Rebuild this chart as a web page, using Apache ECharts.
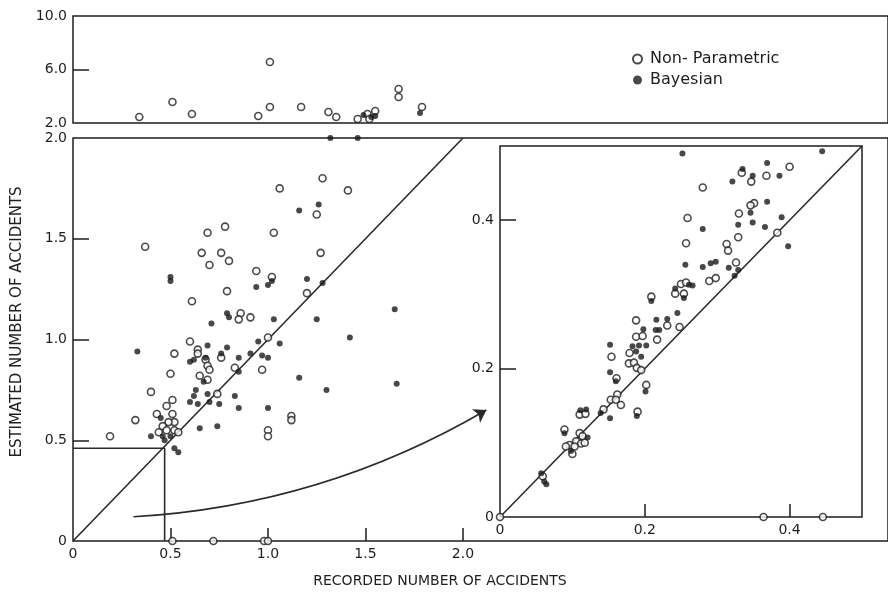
<!DOCTYPE html>
<html>
<head>
<meta charset="utf-8">
<script src="https://cdn.jsdelivr.net/npm/echarts@6/dist/echarts.min.js"></script>
<style>
  html, body { margin: 0; padding: 0; background: #fff; }
  #chart { width: 888px; height: 599px; }
</style>
</head>
<body>
<div id="chart"></div>
<script>
// top strip (estimates above 2.0)
var topOpen = [[0.34, 2.45], [0.51, 3.57], [0.61, 2.67], [0.95, 2.52], [1.01, 6.56], [1.01, 3.2],
  [1.17, 3.2], [1.31, 2.82], [1.35, 2.45], [1.46, 2.3], [1.51, 2.67], [1.52, 2.3], [1.55, 2.9],
  [1.67, 4.54], [1.67, 3.94], [1.79, 3.2]]
var topFilled = [[1.49, 2.6], [1.53, 2.45], [1.55, 2.52], [1.78, 2.75]]

// main panel
var mainOpen = [[0.37, 1.46], [0.69, 1.53], [0.78, 1.56], [1.06, 1.75], [1.03, 1.53], [1.28, 1.8],
  [1.41, 1.74], [1.25, 1.62], [0.66, 1.43], [0.76, 1.43], [0.7, 1.37], [0.8, 1.39], [0.94, 1.34],
  [1.02, 1.31], [1.2, 1.23], [0.79, 1.24], [0.61, 1.19], [0.86, 1.13], [0.85, 1.1], [0.91, 1.11],
  [1.27, 1.43], [0.97, 0.85], [0.6, 0.99], [0.52, 0.93], [0.64, 0.95], [0.64, 0.93], [0.68, 0.9],
  [0.69, 0.87], [0.7, 0.85], [0.76, 0.91], [1.0, 1.01], [0.83, 0.86], [0.5, 0.83], [0.65, 0.82],
  [0.69, 0.8], [0.4, 0.74], [0.74, 0.73], [1.12, 0.62], [1.12, 0.6], [1.0, 0.55], [1.0, 0.52],
  [0.51, 0.7], [0.48, 0.67], [0.43, 0.63], [0.32, 0.6], [0.19, 0.52], [0.51, 0.63], [0.52, 0.59],
  [0.49, 0.59], [0.46, 0.57], [0.48, 0.55], [0.52, 0.55], [0.54, 0.54], [0.44, 0.54],
  [0.51, 0], [0.72, 0], [0.98, 0], [1.0, 0]]
var mainFilled = [[1.16, 1.64], [1.26, 1.67], [0.5, 1.31], [0.5, 1.29], [1.02, 1.29], [0.94, 1.26],
  [1.0, 1.27], [1.2, 1.3], [1.28, 1.28], [0.79, 1.13], [0.8, 1.11], [0.71, 1.08], [1.03, 1.1],
  [1.25, 1.1], [1.65, 1.15], [0.95, 0.99], [1.06, 0.98], [1.42, 1.01], [0.97, 0.92], [1.0, 0.91],
  [1.16, 0.81], [1.3, 0.75], [1.66, 0.78], [1.0, 0.66], [0.69, 0.97], [0.79, 0.96], [0.33, 0.94],
  [0.6, 0.89], [0.62, 0.9], [0.68, 0.91], [0.76, 0.93], [0.85, 0.91], [0.91, 0.93], [0.85, 0.84],
  [0.67, 0.79], [0.63, 0.75], [0.69, 0.73], [0.62, 0.72], [0.6, 0.69], [0.64, 0.68], [0.7, 0.69],
  [0.75, 0.68], [0.83, 0.72], [0.85, 0.66], [0.4, 0.52], [0.65, 0.56], [0.74, 0.57], [0.45, 0.61],
  [0.46, 0.52], [0.47, 0.5], [0.5, 0.52], [0.52, 0.46], [0.54, 0.44], [1.32, 2.0], [1.46, 2.0]]

// inset (enlarged 0 - 0.5 region)
var insetOpen = [[0.4, 0.472], [0.334, 0.464], [0.347, 0.452], [0.368, 0.46], [0.28, 0.444],
  [0.351, 0.423], [0.346, 0.42], [0.33, 0.409], [0.259, 0.403], [0.383, 0.383], [0.329, 0.377],
  [0.257, 0.369], [0.313, 0.368], [0.315, 0.359], [0.326, 0.343], [0.289, 0.318], [0.298, 0.322],
  [0.25, 0.314], [0.257, 0.316], [0.242, 0.301], [0.254, 0.301], [0.209, 0.297], [0.188, 0.265],
  [0.231, 0.258], [0.248, 0.256], [0.217, 0.239], [0.188, 0.243], [0.197, 0.244], [0.179, 0.221],
  [0.154, 0.216], [0.178, 0.207], [0.185, 0.208], [0.189, 0.201], [0.195, 0.198], [0.161, 0.187],
  [0.202, 0.178], [0.162, 0.165], [0.153, 0.158], [0.16, 0.158], [0.167, 0.151], [0.143, 0.145],
  [0.19, 0.142], [0.11, 0.138], [0.118, 0.139], [0.089, 0.118], [0.11, 0.113], [0.114, 0.109],
  [0.105, 0.102], [0.096, 0.097], [0.112, 0.099], [0.103, 0.095], [0.117, 0.1], [0.091, 0.095],
  [0.1, 0.085], [0.059, 0.055], [0, 0], [0.364, 0], [0.446, 0]]
var insetFilled = [[0.252, 0.49], [0.445, 0.493], [0.369, 0.477], [0.335, 0.469], [0.349, 0.46],
  [0.386, 0.46], [0.321, 0.452], [0.369, 0.425], [0.346, 0.41], [0.389, 0.404], [0.349, 0.397],
  [0.329, 0.394], [0.366, 0.391], [0.28, 0.388], [0.398, 0.365], [0.256, 0.34], [0.28, 0.337],
  [0.291, 0.342], [0.298, 0.344], [0.316, 0.336], [0.329, 0.333], [0.324, 0.325], [0.261, 0.313],
  [0.266, 0.312], [0.242, 0.308], [0.254, 0.295], [0.209, 0.291], [0.245, 0.275], [0.216, 0.266],
  [0.231, 0.267], [0.215, 0.252], [0.22, 0.252], [0.198, 0.253], [0.152, 0.232], [0.183, 0.23],
  [0.192, 0.231], [0.202, 0.231], [0.188, 0.223], [0.195, 0.216], [0.152, 0.195], [0.16, 0.183],
  [0.201, 0.169], [0.139, 0.14], [0.152, 0.133], [0.189, 0.136], [0.111, 0.144], [0.119, 0.145],
  [0.089, 0.113], [0.098, 0.089], [0.121, 0.107], [0.057, 0.059], [0.064, 0.044], [0.061, 0.048]]

// reference lines and the arrow
var mainDiag = [[0, 0], [2, 2]]
var cornerBox = [[0, 0.46], [0.47, 0.46], [0.47, 0]]
var insetDiag = [[0, 0], [0.5, 0.5]]
var arrowPath = [[0.31, 0.12], [2.12, 0.65]]

// tick labels / tick marks
var topYLabels = [2, 6, 10]
var topYTicks = [6]
var mainXLabels = [0, 0.5, 1, 1.5, 2]
var mainXTicks = [0.5, 1, 1.5, 2]
var mainYLabels = [0, 0.5, 1, 1.5, 2]
var mainYTicks = [0.5, 1, 1.5]
var insetLabels = [0, 0.2, 0.4]
var insetTicks = [0.2, 0.4]

var MAIN_X_MAX = 4.18
var INK = '#1e1e1e'
var FONT = 'DejaVu Sans'

function fmt(v) {
  return v === 0 ? '0' : v.toFixed(1)
}

function xAx(grid, min, max, labels, ticks) {
  return {
    type: 'value', gridIndex: grid, min: min, max: max,
    axisLine: { show: false },
    splitLine: { show: false },
    axisTick: { show: !!ticks, inside: true, length: 13, customValues: ticks || [],
      lineStyle: { color: INK, width: 1.5 } },
    axisLabel: { show: !!labels, customValues: labels || [], formatter: fmt, margin: 6,
      color: INK, fontSize: 14, fontFamily: FONT }
  }
}

function yAx(grid, min, max, labels, ticks) {
  return {
    type: 'value', gridIndex: grid, min: min, max: max,
    axisLine: { show: false },
    splitLine: { show: false },
    axisTick: { show: true, inside: true, length: 16, customValues: ticks,
      lineStyle: { color: INK, width: 1.5 } },
    axisLabel: { customValues: labels, formatter: fmt, margin: 6,
      color: INK, fontSize: 14, fontFamily: FONT }
  }
}

var openStyle = { color: '#fff', borderColor: INK, borderWidth: 1.6 }
var fillStyle = { color: '#1a1a1a' }

function dots(name, idx, data, filled) {
  return {
    name: name, type: 'scatter', xAxisIndex: idx, yAxisIndex: idx, data: data,
    symbol: 'circle', symbolSize: filled ? 6 : 7, clip: false, z: filled ? 4 : 3,
    itemStyle: filled ? fillStyle : openStyle, silent: true
  }
}

function segs(idx, data) {
  return {
    type: 'line', xAxisIndex: idx, yAxisIndex: idx, data: data, symbol: 'none',
    lineStyle: { color: '#2a2a2a', width: 1.6 }, silent: true, z: 2
  }
}

var chart = echarts.init(document.getElementById('chart'))
chart.setOption({
  backgroundColor: '#fff',
  animation: false,
  grid: [
    { left: 73, top: 16, right: -6, height: 107, show: true, borderColor: INK, borderWidth: 1.5 },
    { left: 73, top: 138, right: -6, height: 403, show: true, borderColor: INK, borderWidth: 1.5 },
    { left: 500, top: 146, width: 362, height: 371, show: true, borderColor: INK, borderWidth: 1.5,
      backgroundColor: '#fff' }
  ],
  xAxis: [
    xAx(0, 0, MAIN_X_MAX, null, null),
    xAx(1, 0, MAIN_X_MAX, mainXLabels, mainXTicks),
    xAx(2, 0, 0.5, insetLabels, insetTicks)
  ],
  yAxis: [
    yAx(0, 2, 10, topYLabels, topYTicks),
    yAx(1, 0, 2, mainYLabels, mainYTicks),
    yAx(2, 0, 0.5, insetLabels, insetTicks)
  ],
  legend: {
    orient: 'vertical', left: 627, top: 46, itemWidth: 9, itemHeight: 9, itemGap: 5,
    textStyle: { color: INK, fontSize: 16, fontFamily: FONT, padding: [0, 0, 0, 3] },
    data: ['Non- Parametric', 'Bayesian']
  },
  graphic: [
    { type: 'text', x: 17, y: 322, rotation: Math.PI / 2,
      style: { text: 'ESTIMATED NUMBER OF ACCIDENTS', fill: INK, font: '15px "DejaVu Sans"',
        textAlign: 'center', textVerticalAlign: 'middle' } },
    { type: 'text', x: 440, y: 581,
      style: { text: 'RECORDED NUMBER OF ACCIDENTS', fill: INK, font: '14px "DejaVu Sans"',
        textAlign: 'center', textVerticalAlign: 'middle' } }
  ],
  series: [
    segs(1, mainDiag),
    segs(1, cornerBox),
    segs(2, insetDiag),
    {
      type: 'lines', coordinateSystem: 'cartesian2d', xAxisIndex: 1, yAxisIndex: 1,
      data: [{ coords: arrowPath }], symbol: ['none', 'arrow'], symbolSize: 12,
      lineStyle: { color: '#2a2a2a', width: 1.6, curveness: -0.12, opacity: 1 }, silent: true
    },
    dots('Non- Parametric', 0, topOpen, false),
    dots('Bayesian', 0, topFilled, true),
    dots('Non- Parametric', 1, mainOpen, false),
    dots('Bayesian', 1, mainFilled, true),
    dots('Non- Parametric', 2, insetOpen, false),
    dots('Bayesian', 2, insetFilled, true)
  ]
})
</script>
</body>
</html>
